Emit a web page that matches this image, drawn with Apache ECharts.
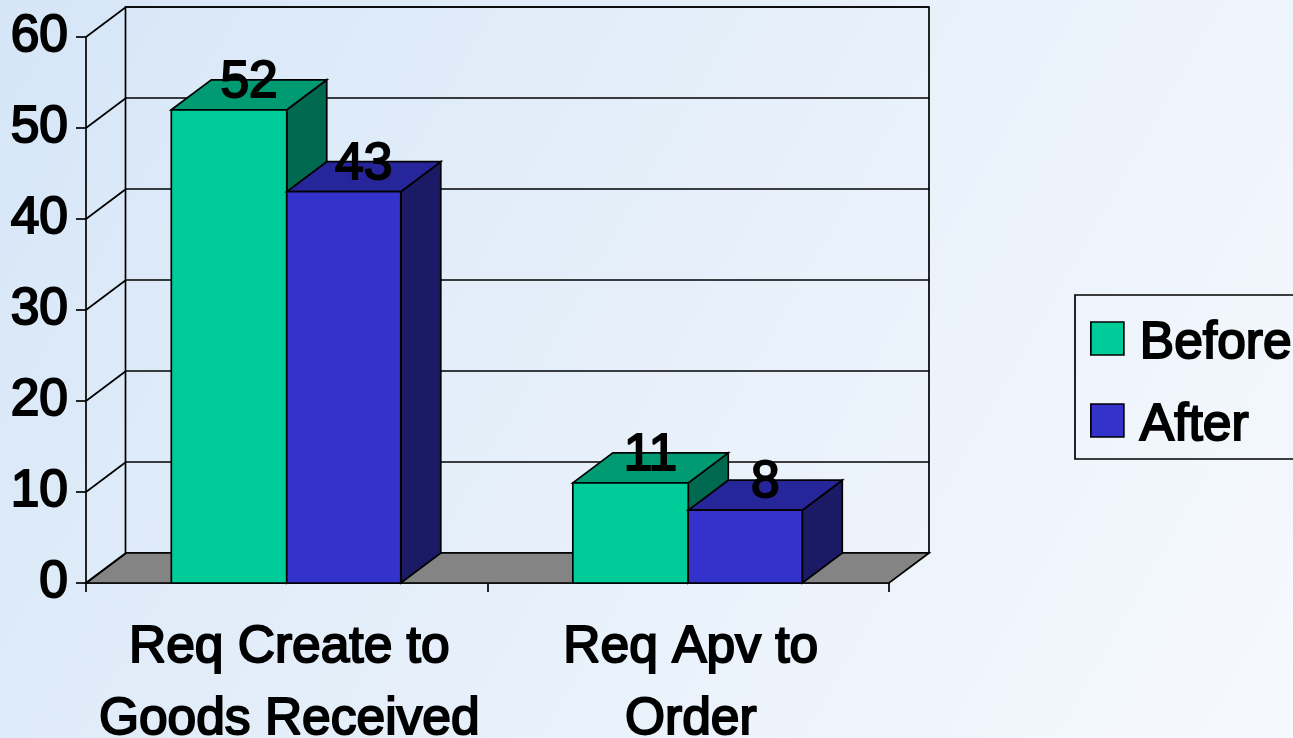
<!DOCTYPE html>
<html><head><meta charset="utf-8">
<style>html,body{margin:0;padding:0;background:#e8f0fa}#c{width:1293px;height:738px}</style>
<script src="https://cdn.jsdelivr.net/npm/echarts@6/dist/echarts.min.js"></script>
</head><body><div id="c"></div>
<script>
const categories = ['Req Create to\nGoods Received', 'Req Apv to\nOrder'];
const seriesNames = ['Before', 'After'];
const beforeValues = [52, 11];
const afterValues = [43, 8];
const yTicks = [0, 10, 20, 30, 40, 50, 60];

const DX = 40, DY = -30, LW = 1.7;
const FONT = '"Liberation Sans", Arial, sans-serif';
const FS = 51.5;
const bold = {fontFamily: FONT, fontSize: FS, color: '#000', textBorderColor: '#000', textBorderWidth: 2};
const line = {stroke: '#000', lineWidth: LW};

function bar3d(front, top, side, dir, share) {
  return function (params, api) {
    const p0 = api.coord([api.value(0), 0]);
    const p1 = api.coord([api.value(0), api.value(1)]);
    const w = api.size([1, 0])[0] * share;
    const x0 = dir < 0 ? p0[0] - w : p0[0], x1 = x0 + w, yb = p0[1], yt = p1[1];
    return {type: 'group', children: [
      {type: 'polygon', shape: {points: [[x1, yb], [x1 + DX, yb + DY], [x1 + DX, yt + DY], [x1, yt]]}, style: {fill: side, ...line}},
      {type: 'polygon', shape: {points: [[x0, yt], [x0 + DX, yt + DY], [x1 + DX, yt + DY], [x1, yt]]}, style: {fill: top, ...line}},
      {type: 'rect', shape: {x: x0, y: yt, width: x1 - x0, height: yb - yt}, style: {fill: front, ...line}},
      {type: 'text', z2: 50, style: {text: String(api.value(1)), x: (x0 + x1) / 2 + DX / 2, y: yt + DY + 3, align: 'center', verticalAlign: 'middle',
        font: FS + 'px ' + FONT, fill: '#000', stroke: '#000', lineWidth: 2}}
    ]};
  };
}

const chart = echarts.init(document.getElementById('c'), null, {renderer: 'canvas'});
chart.setOption({
  animation: false,
  backgroundColor: {type: 'linear', x: 0, y: 0, x2: 1, y2: 1, colorStops: [
    {offset: 0, color: '#d6e6f7'}, {offset: 0.5, color: '#e7f0fa'}, {offset: 1, color: '#f6f9fe'}]},
  grid: [
    {left: 86, right: 404, top: 37, bottom: 155, outerBoundsMode: 'none'},
    {left: 125.5, right: 364, top: 7, bottom: 185, outerBoundsMode: 'none', show: true, borderColor: '#000', borderWidth: LW, backgroundColor: 'transparent'}
  ],
  xAxis: [
    {type: 'category', gridIndex: 0, data: categories,
      axisLine: {lineStyle: {color: '#000', width: LW}}, axisTick: {show: true, length: 9, lineStyle: {color: '#000', width: LW}},
      axisLabel: {interval: 0, margin: 29, lineHeight: 72, padding: [0, 0, 0, 5], ...bold}},
    {type: 'value', gridIndex: 1, min: 0, max: 1, show: false}
  ],
  yAxis: [
    {type: 'value', gridIndex: 0, min: 0, max: 60, interval: 10,
      axisLine: {show: true, lineStyle: {color: '#000', width: LW}}, axisTick: {show: true, length: 10, lineStyle: {color: '#000', width: LW}},
      splitLine: {show: false}, axisLabel: {margin: 18, padding: [4, 0, 0, 0], ...bold}},
    {type: 'value', gridIndex: 1, min: 0, max: 60, interval: 10,
      axisLine: {show: false}, axisTick: {show: false}, axisLabel: {show: false},
      splitLine: {show: true, lineStyle: {color: '#000', width: LW}}}
  ],
  legend: {
    orient: 'vertical', left: 1075, top: 295, align: 'left',
    padding: [22, 40, 6, 15], itemGap: 28, itemWidth: 33, itemHeight: 33,
    borderColor: '#000', borderWidth: LW, icon: 'rect',
    formatter: name => '{t|' + name + '}',
    textStyle: {...bold, rich: {t: {...bold, padding: [11, 0, 0, 11]}}},
    data: seriesNames,
    itemStyle: {borderColor: '#000', borderWidth: LW}
  },
  series: [
    {type: 'custom', name: 'walls', xAxisIndex: 0, yAxisIndex: 0, silent: true, clip: false, z: 1,
      data: yTicks.map(v => [0, v]),
      renderItem(params, api) {
        const cs = params.coordSys;
        const y = api.coord([0, api.value(1)])[1];
        const children = [{type: 'line', shape: {x1: cs.x, y1: y, x2: cs.x + DX, y2: y + DY}, style: line}];
        if (api.value(1) === 0) {
          children.unshift({type: 'polygon', shape: {points: [[cs.x, y], [cs.x + DX, y + DY], [cs.x + cs.width + DX, y + DY], [cs.x + cs.width, y]]},
            style: {fill: '#848484', ...line}});
        }
        return {type: 'group', children};
      }},
    {type: 'custom', name: seriesNames[0], xAxisIndex: 0, yAxisIndex: 0, clip: false, z: 2,
      itemStyle: {color: '#00cc99'},
      data: beforeValues.map((v, i) => [i, v]),
      renderItem: bar3d('#00cc99', '#009a73', '#006a50', -1, 0.2875)},
    {type: 'custom', name: seriesNames[1], xAxisIndex: 0, yAxisIndex: 0, clip: false, z: 3,
      itemStyle: {color: '#3333cc'},
      data: afterValues.map((v, i) => [i, v]),
      renderItem: bar3d('#3333cc', '#26269a', '#1a1a66', 1, 0.284)}
  ]
});
</script></body></html>
